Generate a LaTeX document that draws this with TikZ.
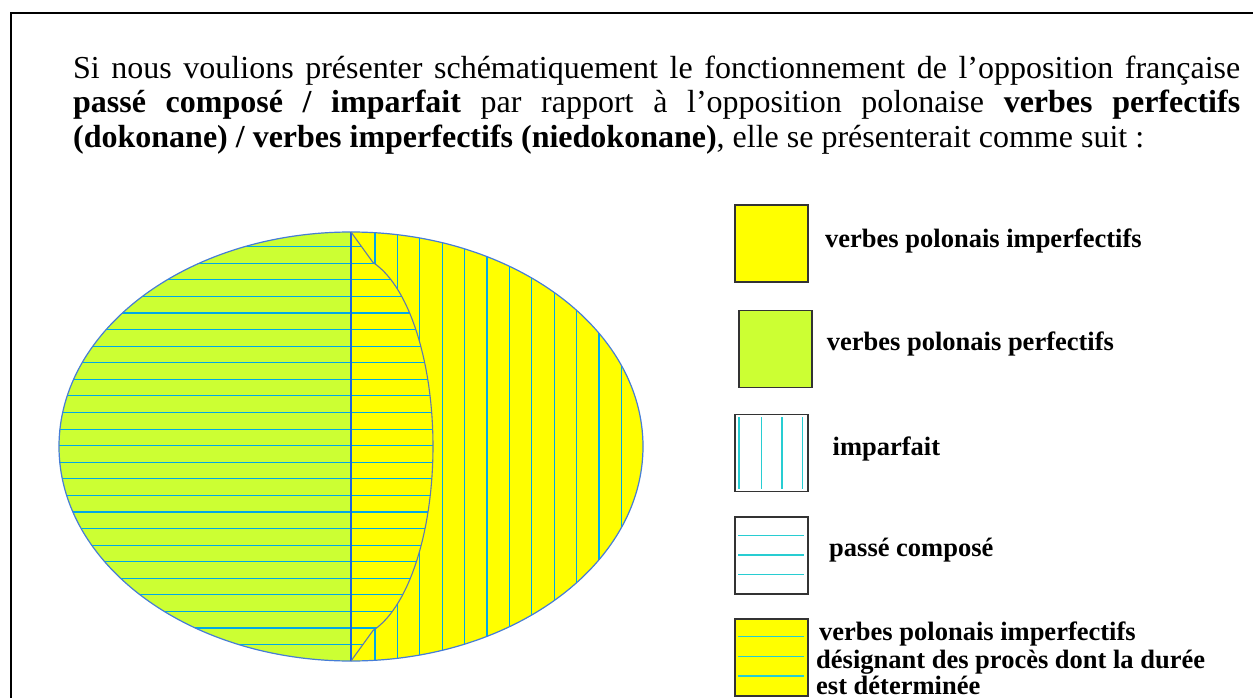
\documentclass[tikz,border=0pt]{standalone}
\usepackage{fontspec}
\setmainfont{Liberation Serif}
\definecolor{yel}{RGB}{255,255,0}
\definecolor{grn}{RGB}{204,255,51}
\definecolor{hatchc}{RGB}{0,168,232}
\definecolor{leghatch}{RGB}{40,205,210}
\definecolor{outl}{RGB}{70,125,215}
\definecolor{midl}{RGB}{30,100,220}
\definecolor{lensl}{RGB}{95,120,175}
\begin{document}
\begin{tikzpicture}[x=1pt,y=-1pt,
  legbox/.style={draw=black!80, line width=1.3pt, inner sep=0pt, outer sep=0pt, minimum width=73pt, minimum height=77pt},
  legtext/.style={anchor=base west, inner sep=0pt, font=\fontsize{26.5}{27.5}\selectfont\bfseries},
  bodytext/.style={anchor=base west, inner sep=0pt, font=\fontsize{32}{34}\selectfont},
  hline/.style={hatchc, line width=1.1pt},
  lline/.style={leghatch, line width=1.2pt}]
\useasboundingbox (0,0) rectangle (1253,698);
\fill[white] (0,0) rectangle (1253,698);
% frame
\draw[line width=2.6pt] (11,740) -- (11,13) -- (1290,13);
% paragraph
\node[bodytext] (l1) at (73,79) {\makebox[1167pt][s]{Si nous voulions présenter schématiquement le fonctionnement de l’opposition française}};
\node[bodytext] (l2) at (73,113) {\makebox[1167pt][s]{\textbf{passé composé / imparfait} par rapport à l’opposition polonaise \textbf{verbes perfectifs}}};
\node[bodytext] (l3) at (73,147) {\textbf{(dokonane) / verbes imperfectifs (niedokonane)}, elle se présenterait comme suit :};
% ellipse fills
\fill[yel] (351,446.5) ellipse [x radius=292, y radius=214.5];
\begin{scope}
  \clip (351,446.5) ellipse [x radius=292, y radius=214.5];
  \fill[grn] (0,200) rectangle (351,700);
\end{scope}
% horizontal hatching (passe compose)
\begin{scope}
  \clip (351,446.5) ellipse [x radius=292, y radius=214.5];
  \clip (0,200) -- (351,200) -- (351,232) -- (373,262.5) -- plot[domain=-74.4:74.4, samples=60] ({351+82*cos(\x)},{446.5+191*sin(\x)}) -- (351,661) -- (351,700) -- (0,700) -- cycle;
  \foreach \k in {0,...,24} \draw[hline] (40,{246.7+16.58*\k}) -- (470,{246.7+16.58*\k});
\end{scope}
% vertical hatching (imparfait)
\begin{scope}
  \clip (351,446.5) ellipse [x radius=292, y radius=214.5];
  \clip (351,200) -- (351,232) -- (373,262.5) -- plot[domain=-74.4:74.4, samples=60] ({351+82*cos(\x)},{446.5+191*sin(\x)}) -- (351,661) -- (351,700) -- (700,700) -- (700,200) -- cycle;
  \foreach \k in {0,...,11} \draw[hline] ({375+22.4*\k},200) -- ({375+22.4*\k},700);
\end{scope}
% outlines
\draw[outl, line width=1.2pt] (351,446.5) ellipse [x radius=292, y radius=214.5];
\draw[midl, line width=1.2pt] (351,232) -- (351,661);
\draw[lensl, line width=1.1pt] (351,232) -- (373,262.5) -- plot[domain=-74.4:74.4, samples=60] ({351+82*cos(\x)},{446.5+191*sin(\x)}) -- (351,661);
% legend boxes
\node[legbox, fill=yel] (b1) at (771.5,243.5) {};
\node[legbox, fill=grn] (b2) at (775.5,349) {};
\node[legbox, fill=white] (b3) at (771.5,453) {};
\foreach \xx in {739,761.3,782,802.7} \draw[lline] (\xx,417) -- (\xx,489);
\node[legbox, fill=white] (b4) at (771.5,555.5) {};
\foreach \yy in {535.7,555,574.3} \draw[lline] (738,\yy) -- (804,\yy);
\node[legbox, fill=yel] (b5) at (771.5,657.5) {};
\foreach \yy in {636.7,656.7,676} \draw[lline] (738,\yy) -- (804,\yy);
% legend texts
\node[legtext] (t1) at (825,247.3) {verbes polonais imperfectifs};
\node[legtext] (t2) at (826.7,350.7) {verbes polonais perfectifs};
\node[legtext] (t3) at (832.5,455) {imparfait};
\node[legtext] (t4) at (829,556) {passé composé};
\node[legtext] (t5a) at (819,640.7) {verbes polonais imperfectifs};
\node[legtext] (t5b) at (816,668.3) {désignant des procès dont la durée};
\node[legtext] (t5c) at (816,694.5) {est déterminée};
\end{tikzpicture}
\end{document}
